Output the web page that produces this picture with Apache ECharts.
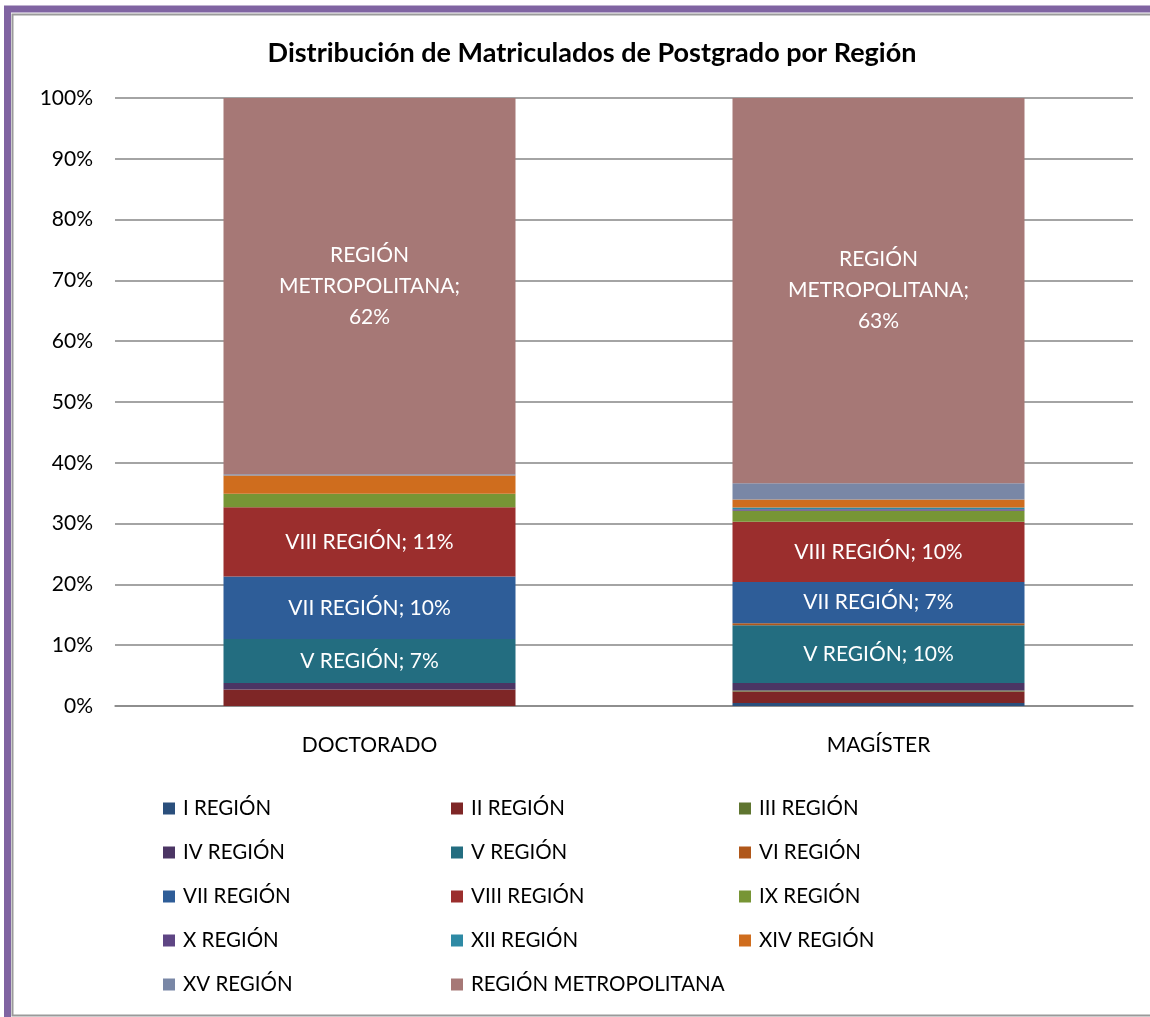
<!DOCTYPE html>
<html>
<head>
<meta charset="utf-8">
<script src="https://cdn.jsdelivr.net/npm/echarts@6/dist/echarts.min.js"></script>
<style>
  html, body { margin: 0; padding: 0; background: #fff; }
  #chart { width: 1150px; height: 1017px; }
</style>
</head>
<body>
<div id="chart"></div>
<script>
const categories = ["DOCTORADO", "MAGÍSTER"];
const regions = [
  "I REGIÓN", "II REGIÓN", "III REGIÓN", "IV REGIÓN", "V REGIÓN", "VI REGIÓN",
  "VII REGIÓN", "VIII REGIÓN", "IX REGIÓN", "X REGIÓN", "XII REGIÓN",
  "XIV REGIÓN", "XV REGIÓN", "REGIÓN METROPOLITANA"
];
// porcentaje por región (orden de regions)
const doctorado = [0, 2.7, 0, 1.1, 7.2, 0, 10.3, 11.4, 2.2, 0, 0, 3.0, 0.2, 61.9];
const magister = [0.5, 1.9, 0.15, 1.25, 9.5, 0.3, 6.8, 9.9, 1.8, 0.25, 0.3, 1.3, 2.7, 63.35];
const colors = [
  "#2a4f7c", "#7e2626", "#5f7530", "#4b3564", "#236d80", "#b0571a",
  "#2e5d98", "#9b2e2d", "#779535", "#5e4584", "#2e8aa5", "#cf6d1e",
  "#7987a6", "#a67876"
];
const yTicks = [0, 10, 20, 30, 40, 50, 60, 70, 80, 90, 100];
// series que llevan etiqueta
const labeled = ["V REGIÓN", "VII REGIÓN", "VIII REGIÓN", "REGIÓN METROPOLITANA"];

const FONT = "Lato";

const chart = echarts.init(document.getElementById("chart"));

const series = regions.map((name, i) => ({
  name: name,
  type: "bar",
  stack: "total",
  barWidth: 292,
  data: [doctorado[i], magister[i]],
  itemStyle: { color: colors[i] },
  label: {
    show: labeled.includes(name),
    position: "inside",
    color: "#fff",
    fontFamily: FONT,
    fontSize: 21,
    lineHeight: 31,
    formatter: (p) => {
      const v = Math.round(p.value) + "%";
      if (name === "REGIÓN METROPOLITANA") return "REGIÓN\nMETROPOLITANA;\n" + v;
      return name + "; " + v;
    },
  },
}));

// leyenda en 3 columnas
const cols = [
  ["I REGIÓN", "IV REGIÓN", "VII REGIÓN", "X REGIÓN", "XV REGIÓN"],
  ["II REGIÓN", "V REGIÓN", "VIII REGIÓN", "XII REGIÓN", "REGIÓN METROPOLITANA"],
  ["III REGIÓN", "VI REGIÓN", "IX REGIÓN", "XIV REGIÓN"],
];
const colLeft = [158, 446, 734];

chart.setOption({
  animation: false,
  title: {
    text: "Distribución de Matriculados de Postgrado por Región",
    left: 587,
    top: 35,
    textAlign: "center",
    textStyle: { fontFamily: FONT, fontSize: 27, fontWeight: "bold", color: "#000" },
  },
  legend: cols.map((c, i) => ({
    data: c,
    orient: "vertical",
    left: colLeft[i],
    top: 793,
    itemWidth: 12,
    itemHeight: 12,
    itemGap: 23,
    icon: "rect",
    textStyle: { fontFamily: FONT, fontSize: 20.5, lineHeight: 21, color: "#000", padding: [0, 0, 0, 3] },
  })),
  grid: { left: 115, right: 17, top: 98, bottom: 311 },
  xAxis: {
    type: "category",
    data: categories,
    axisTick: { show: false },
    axisLine: { lineStyle: { color: "#868686", width: 1.5 } },
    axisLabel: { fontFamily: FONT, fontSize: 21, color: "#000", margin: 29 },
  },
  yAxis: {
    type: "value",
    min: yTicks[0],
    max: yTicks[yTicks.length - 1],
    interval: 10,
    axisLine: { show: false },
    axisTick: { show: false },
    splitLine: { lineStyle: { color: "#868686", width: 1.5 } },
    axisLabel: { fontFamily: FONT, fontSize: 21, color: "#000", margin: 22, formatter: "{value}%" },
  },
  graphic: [
    {
      type: "rect",
      shape: { x: 7.5, y: 9, width: 1160, height: 1030 },
      style: { fill: null, stroke: "#8064a2", lineWidth: 7 },
      silent: true,
    },
    {
      type: "rect",
      shape: { x: 12.5, y: 14.5, width: 1150, height: 1001 },
      style: { fill: null, stroke: "#9a9a9a", lineWidth: 2 },
      silent: true,
    },
  ],
  series: series,
});
</script>
</body>
</html>
